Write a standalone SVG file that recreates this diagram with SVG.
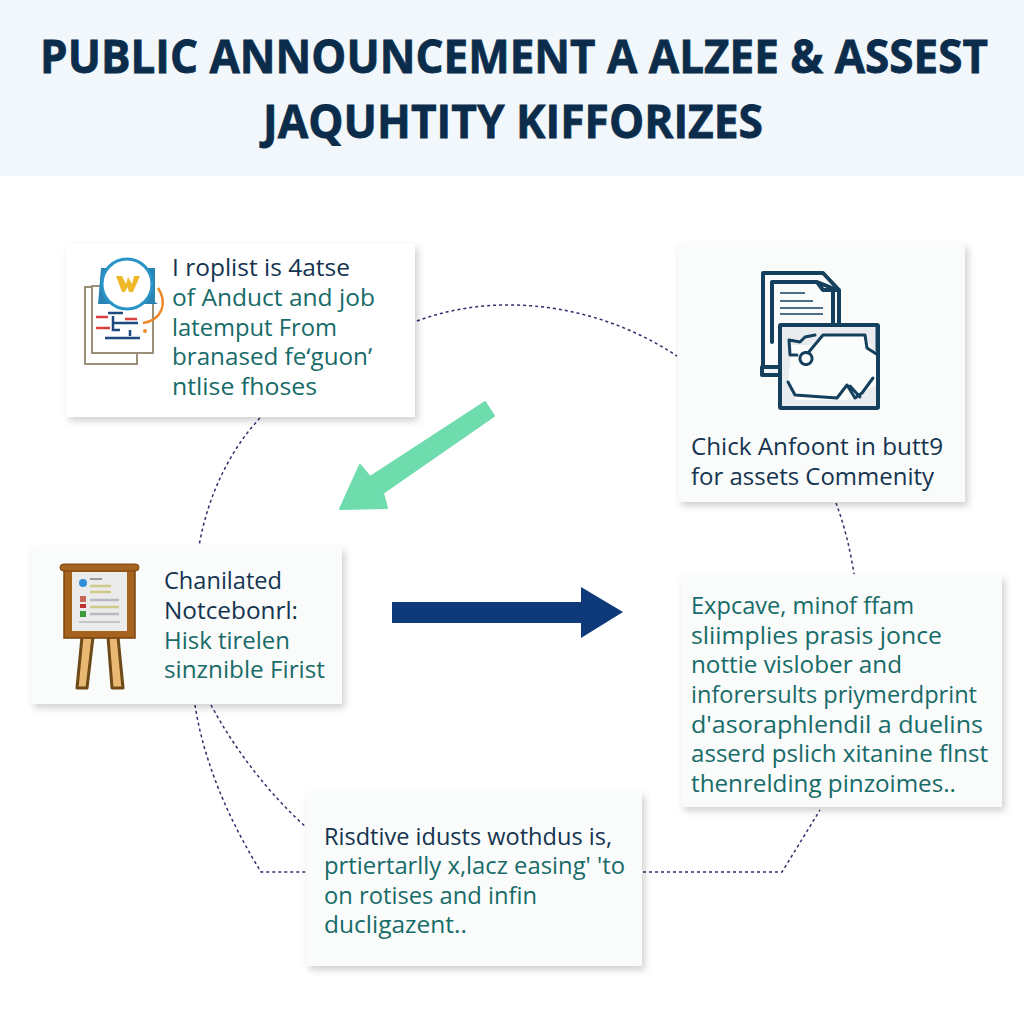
<svg xmlns="http://www.w3.org/2000/svg" width="1024" height="1024" viewBox="0 0 1024 1024">
<defs>
<filter id="sh" x="-10%" y="-10%" width="125%" height="125%"><feDropShadow dx="3" dy="4" stdDeviation="3.5" flood-color="#000" flood-opacity="0.18"/></filter>
</defs>
<style>
text{font-family:"Open Sans","Noto Sans","Liberation Sans",sans-serif}
.t{font-size:43px;font-weight:700;fill:#0b2c4a;stroke:#0b2c4a;stroke-width:.7}
.b{font-size:24px;fill:#176b68}
.b.d{fill:#14344f}
.card{fill:#fff;filter:url(#sh)}
.card2{fill:#fafbfb;filter:url(#sh)}
.c{fill:none;stroke:#2f2f6e;stroke-width:1.5;stroke-dasharray:3 3}
.ic{fill:none;stroke:#14405e;stroke-width:4;stroke-linejoin:round;stroke-linecap:round}
.ic2{fill:none;stroke:#14405e;stroke-width:3;stroke-linejoin:round;stroke-linecap:round}
</style>
<rect width="1024" height="1024" fill="#fff"/>
<g id="header">
<rect width="1024" height="176" fill="#f1f7fa"/>
<text class="t" transform="translate(40 73) scale(1 1.09)" textLength="948" lengthAdjust="spacingAndGlyphs">PUBLIC ANNOUNCEMENT A ALZEE &amp; ASSEST</text>
<text class="t" transform="translate(263 138) scale(1 1.09)" textLength="500" lengthAdjust="spacingAndGlyphs">JAQUHTITY KIFFORIZES</text>
</g>
<g id="connectors">
<path class="c" d="M417 321C500 290 600 305 677 356"/>
<path class="c" d="M260 418C230 450 208 495 199 546"/>
<path class="c" d="M836 503Q848 535 854 574"/>
<path class="c" d="M195 705C205 770 235 830 261 872L306 872"/>
<path class="c" d="M211 705C235 750 270 795 306 827"/>
<path class="c" d="M643 872L782 872L820 810"/>
<path fill="#6fdcae" stroke="#6fdcae" stroke-width="2" stroke-linejoin="round" d="M485 402L494 416L383 493L387 508L340 509L360 465L370 477Z"/>
<path fill="#0f3a7a" d="M392 602H581V587L623 612L581 638V623H392Z"/>
</g>
<g id="node1">
<rect class="card" x="66" y="244" width="349" height="173"/>
<rect x="85" y="287" width="52" height="77" fill="#fff" stroke="#9a8f78" stroke-width="2"/>
<rect x="92" y="286" width="61" height="67" fill="#fff" stroke="#9a8f78" stroke-width="2"/>
<path d="M98 304L101 268H155V302L158 304Z" fill="#2a85b5"/>
<circle cx="127" cy="284" r="25" fill="#fff" stroke="#2a94c8" stroke-width="3"/>
<path d="M116 276H122L126 284L128 277L132 284L134 276H140L133 292H129L127.500 287L125 292H122Z" fill="#f0b92c"/>
<path d="M108 313H123M113 323H138M105 338H140M113 316V330H120M130 336V330" fill="none" stroke="#1f4a80" stroke-width="2.500"/>
<path d="M96 317H108M96 328H110M125 319H137" fill="none" stroke="#d8413f" stroke-width="2.500"/>
<path d="M158 288C168 303 162 320 143 323" fill="none" stroke="#ec8a2c" stroke-width="2.500"/>
<circle cx="145" cy="331" r="2" fill="#ec8a2c"/>
<text class="b d" x="172" y="276" textLength="178" lengthAdjust="spacingAndGlyphs">I roplist is 4atse</text>
<text class="b" x="172" y="306" textLength="203" lengthAdjust="spacingAndGlyphs">of Anduct and job</text>
<text class="b" x="172" y="336" textLength="165" lengthAdjust="spacingAndGlyphs">latemput From</text>
<text class="b" x="172" y="365" textLength="200" lengthAdjust="spacingAndGlyphs">branased feʻguonʼ</text>
<text class="b" x="172" y="395" textLength="145" lengthAdjust="spacingAndGlyphs">ntlise fhoses</text>
</g>
<g id="node2">
<rect class="card2" x="678" y="243" width="287" height="259"/>
<path class="ic" d="M763 367V273H823L839 290V323"/>
<path class="ic" d="M772 342V282H817L823 290H837M817 282L837 290M833 290V323"/>
<path d="M780 293H805M780 301H813M780 308H823M780 314H823" fill="none" stroke="#14405e" stroke-width="1.600"/>
<path class="ic" style="fill:#f3f6f8" d="M779 367H762V375H779"/>
<rect x="780" y="325" width="98" height="83" fill="#e8ecef" stroke="#14405e" stroke-width="4" rx="1"/>
<path d="M792 345L812 345L825 336H865L876 354V385L850 400H796L788 382Z" fill="#fbfcfc"/>
<path class="ic2" d="M815 335L805 337L800 342L789 340L790 355L797 355M808 353L823 335H865L867 348L878 355M877 327V350M801 355A5 5 0 1 0 811 362A5 5 0 0 0 801 355M788 382L795 395L837 398L847 385L855 398L862 393L873 378M850 386L860 397"/>
<text class="b d" x="691" y="455" textLength="252" lengthAdjust="spacingAndGlyphs">Chick Anfoont in butt9</text>
<text class="b d" x="691" y="485" textLength="243" lengthAdjust="spacingAndGlyphs">for assets Commenity</text>
</g>
<g id="node3">
<rect class="card2" x="31" y="547" width="311" height="157"/>
<path d="M82 637H93L87 688H77ZM108 637H118L123 688H112Z" fill="#e9b873" stroke="#6e4a18" stroke-width="3" stroke-linejoin="round"/>
<rect x="64" y="567" width="71" height="71" fill="#a5631e" stroke="#7a4510" stroke-width="1.500"/>
<rect x="60" y="564" width="79" height="7" rx="3.500" fill="#a5631e" stroke="#7a4510"/>
<rect x="72" y="572" width="55" height="59" fill="#ebebeb"/>
<circle cx="83" cy="583" r="4" fill="#2f8fd6"/>
<path d="M90 579H102" stroke="#9a9aa5" stroke-width="2"/>
<path d="M90 586H111M90 592H111M90 607H119" stroke="#cfc98a" stroke-width="2.500"/>
<path d="M90 600H119M90 614H119" stroke="#b9b9c2" stroke-width="2.500"/>
<rect x="80" y="596" width="6" height="6" fill="#c9685a"/>
<rect x="80" y="604" width="6" height="4" fill="#c22f2f"/>
<rect x="80" y="611" width="6" height="6" fill="#3c9a3c"/>
<path d="M79 622H120" stroke="#a0a0a0"/>
<text class="b d" x="164" y="589" textLength="118" lengthAdjust="spacingAndGlyphs">Chanilated</text>
<text class="b d" x="164" y="619" textLength="134" lengthAdjust="spacingAndGlyphs">Notcebonrl:</text>
<text class="b" x="164" y="649" textLength="126" lengthAdjust="spacingAndGlyphs">Hisk tirelen</text>
<text class="b" x="164" y="678" textLength="161" lengthAdjust="spacingAndGlyphs">sinznible Firist</text>
</g>
<g id="node4">
<rect class="card2" x="306" y="792" width="336" height="174"/>
<text class="b d" x="324" y="845" textLength="288" lengthAdjust="spacingAndGlyphs">Risdtive idusts wothdus is,</text>
<text class="b" x="324" y="874" textLength="301" lengthAdjust="spacingAndGlyphs">prtiertarlly x,lacz easing' 'to</text>
<text class="b" x="324" y="904" textLength="213" lengthAdjust="spacingAndGlyphs">on rotises and infin</text>
<text class="b" x="324" y="933" textLength="143" lengthAdjust="spacingAndGlyphs">ducligazent..</text>
</g>
<g id="node5">
<rect class="card2" x="681" y="575" width="321" height="232"/>
<text class="b" x="691" y="614" textLength="223" lengthAdjust="spacingAndGlyphs">Expcave, minof ffam</text>
<text class="b" x="691" y="644" textLength="251" lengthAdjust="spacingAndGlyphs">sliimplies prasis jonce</text>
<text class="b" x="691" y="673" textLength="211" lengthAdjust="spacingAndGlyphs">nottie vislober and</text>
<text class="b" x="691" y="703" textLength="286" lengthAdjust="spacingAndGlyphs">inforersults priymerdprint</text>
<text class="b" x="691" y="733" textLength="292" lengthAdjust="spacingAndGlyphs">d'asoraphlendil a duelins</text>
<text class="b" x="691" y="762" textLength="297" lengthAdjust="spacingAndGlyphs">asserd pslich xitanine flnst</text>
<text class="b" x="691" y="792" textLength="265" lengthAdjust="spacingAndGlyphs">thenrelding pinzoimes..</text>
</g>
</svg>
